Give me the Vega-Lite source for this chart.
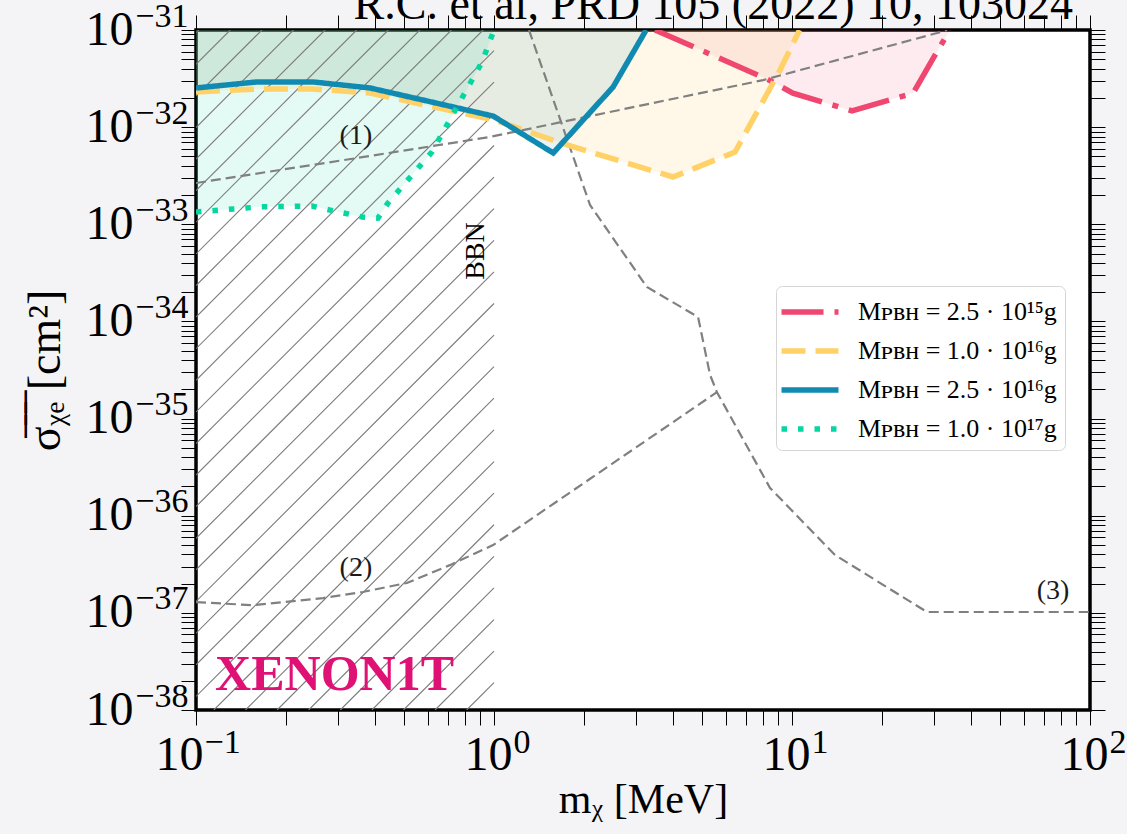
{
  "$schema": "https://vega.github.io/schema/vega-lite/v6.json",
  "width": 894,
  "height": 680,
  "autosize": {"type": "none"},
  "padding": {"left": 196, "top": 30, "right": 37, "bottom": 124},
  "background": "#f4f4f6",
  "config": {
    "view": {"fill": "white", "stroke": "black", "strokeWidth": 3.5},
    "axis": {
      "labelFont": "Liberation Serif",
      "titleFont": "Liberation Serif",
      "labelColor": "black",
      "titleColor": "black",
      "titleFontWeight": "normal",
      "domain": false,
      "grid": false,
      "tickColor": "black",
      "labelOverlap": false,
      "labelFlush": false,
      "zindex": 1
    }
  },
  "datasets": {
    "curves": [
      {"series": "Mᴘʙʜ = 2.5 · 10¹⁵g", "m": 3.47, "sigma": 1e-31},
      {"series": "Mᴘʙʜ = 2.5 · 10¹⁵g", "m": 8.24, "sigma": 3.13e-32},
      {"series": "Mᴘʙʜ = 2.5 · 10¹⁵g", "m": 10.07, "sigma": 2.24e-32},
      {"series": "Mᴘʙʜ = 2.5 · 10¹⁵g", "m": 15.9, "sigma": 1.47e-32},
      {"series": "Mᴘʙʜ = 2.5 · 10¹⁵g", "m": 25.5, "sigma": 2.24e-32},
      {"series": "Mᴘʙʜ = 2.5 · 10¹⁵g", "m": 30.9, "sigma": 6.22e-32},
      {"series": "Mᴘʙʜ = 2.5 · 10¹⁵g", "m": 33.9, "sigma": 1e-31},
      {"series": "Mᴘʙʜ = 1.0 · 10¹⁶g", "m": 0.1, "sigma": 2.30e-32},
      {"series": "Mᴘʙʜ = 1.0 · 10¹⁶g", "m": 0.16, "sigma": 2.47e-32},
      {"series": "Mᴘʙʜ = 1.0 · 10¹⁶g", "m": 0.247, "sigma": 2.47e-32},
      {"series": "Mᴘʙʜ = 1.0 · 10¹⁶g", "m": 0.384, "sigma": 2.24e-32},
      {"series": "Mᴘʙʜ = 1.0 · 10¹⁶g", "m": 0.751, "sigma": 1.43e-32},
      {"series": "Mᴘʙʜ = 1.0 · 10¹⁶g", "m": 1.0, "sigma": 1.19e-32},
      {"series": "Mᴘʙʜ = 1.0 · 10¹⁶g", "m": 1.76, "sigma": 6.55e-33},
      {"series": "Mᴘʙʜ = 1.0 · 10¹⁶g", "m": 3.99, "sigma": 3.07e-33},
      {"series": "Mᴘʙʜ = 1.0 · 10¹⁶g", "m": 6.44, "sigma": 5.55e-33},
      {"series": "Mᴘʙʜ = 1.0 · 10¹⁶g", "m": 9.12, "sigma": 3.87e-32},
      {"series": "Mᴘʙʜ = 1.0 · 10¹⁶g", "m": 10.6, "sigma": 1e-31},
      {"series": "Mᴘʙʜ = 2.5 · 10¹⁶g", "m": 0.1, "sigma": 2.53e-32},
      {"series": "Mᴘʙʜ = 2.5 · 10¹⁶g", "m": 0.16, "sigma": 2.92e-32},
      {"series": "Mᴘʙʜ = 2.5 · 10¹⁶g", "m": 0.247, "sigma": 2.92e-32},
      {"series": "Mᴘʙʜ = 2.5 · 10¹⁶g", "m": 0.384, "sigma": 2.53e-32},
      {"series": "Mᴘʙʜ = 2.5 · 10¹⁶g", "m": 0.994, "sigma": 1.30e-32},
      {"series": "Mᴘʙʜ = 2.5 · 10¹⁶g", "m": 1.58, "sigma": 5.42e-33},
      {"series": "Mᴘʙʜ = 2.5 · 10¹⁶g", "m": 2.51, "sigma": 2.59e-32},
      {"series": "Mᴘʙʜ = 2.5 · 10¹⁶g", "m": 3.24, "sigma": 1e-31},
      {"series": "Mᴘʙʜ = 1.0 · 10¹⁷g", "m": 0.1, "sigma": 1.34e-33},
      {"series": "Mᴘʙʜ = 1.0 · 10¹⁷g", "m": 0.164, "sigma": 1.51e-33},
      {"series": "Mᴘʙʜ = 1.0 · 10¹⁷g", "m": 0.245, "sigma": 1.54e-33},
      {"series": "Mᴘʙʜ = 1.0 · 10¹⁷g", "m": 0.282, "sigma": 1.40e-33},
      {"series": "Mᴘʙʜ = 1.0 · 10¹⁷g", "m": 0.361, "sigma": 1.19e-33},
      {"series": "Mᴘʙʜ = 1.0 · 10¹⁷g", "m": 0.408, "sigma": 1.16e-33},
      {"series": "Mᴘʙʜ = 1.0 · 10¹⁷g", "m": 0.441, "sigma": 1.66e-33},
      {"series": "Mᴘʙʜ = 1.0 · 10¹⁷g", "m": 0.619, "sigma": 5.55e-33},
      {"series": "Mᴘʙʜ = 1.0 · 10¹⁷g", "m": 0.751, "sigma": 1.61e-32},
      {"series": "Mᴘʙʜ = 1.0 · 10¹⁷g", "m": 0.912, "sigma": 4.69e-32},
      {"series": "Mᴘʙʜ = 1.0 · 10¹⁷g", "m": 1.0, "sigma": 1e-31}
    ],
    "guides": [
      {"curve": "(1)", "m": 0.1, "sigma": 2.66e-33},
      {"curve": "(1)", "m": 0.347, "sigma": 4.81e-33},
      {"curve": "(1)", "m": 0.97, "sigma": 7.93e-33},
      {"curve": "(1)", "m": 8.0, "sigma": 3.05e-32},
      {"curve": "(1)", "m": 30.7, "sigma": 9.31e-32},
      {"curve": "(1)", "m": 33.1, "sigma": 1e-31},
      {"curve": "(2)", "m": 0.1, "sigma": 1.29e-37},
      {"curve": "(2)", "m": 0.155, "sigma": 1.20e-37},
      {"curve": "(2)", "m": 0.267, "sigma": 1.42e-37},
      {"curve": "(2)", "m": 0.363, "sigma": 1.64e-37},
      {"curve": "(2)", "m": 0.51, "sigma": 2.03e-37},
      {"curve": "(2)", "m": 0.711, "sigma": 3.10e-37},
      {"curve": "(2)", "m": 0.993, "sigma": 4.99e-37},
      {"curve": "(2)", "m": 5.6, "sigma": 1.87e-35},
      {"curve": "(3)", "m": 1.31, "sigma": 1e-31},
      {"curve": "(3)", "m": 2.1, "sigma": 1.58e-33},
      {"curve": "(3)", "m": 3.26, "sigma": 2.26e-34},
      {"curve": "(3)", "m": 4.84, "sigma": 1.11e-34},
      {"curve": "(3)", "m": 5.31, "sigma": 2.81e-35},
      {"curve": "(3)", "m": 5.6, "sigma": 1.87e-35},
      {"curve": "(3)", "m": 8.44, "sigma": 1.93e-36},
      {"curve": "(3)", "m": 13.94, "sigma": 3.94e-37},
      {"curve": "(3)", "m": 28.38, "sigma": 1.02e-37},
      {"curve": "(3)", "m": 100, "sigma": 1.02e-37}
    ],
    "hatch": [
      {"m": 0.1, "sigma": 9.38e-32, "m2": 0.1021, "sigma2": 1e-31},
      {"m": 0.1, "sigma": 4.44e-32, "m2": 0.1303, "sigma2": 1e-31},
      {"m": 0.1, "sigma": 2.10e-32, "m2": 0.1664, "sigma2": 1e-31},
      {"m": 0.1, "sigma": 9.91e-33, "m2": 0.2124, "sigma2": 1e-31},
      {"m": 0.1, "sigma": 4.69e-33, "m2": 0.2711, "sigma2": 1e-31},
      {"m": 0.1, "sigma": 2.22e-33, "m2": 0.3461, "sigma2": 1e-31},
      {"m": 0.1, "sigma": 1.05e-33, "m2": 0.4418, "sigma2": 1e-31},
      {"m": 0.1, "sigma": 4.95e-34, "m2": 0.564, "sigma2": 1e-31},
      {"m": 0.1, "sigma": 2.34e-34, "m2": 0.7199, "sigma2": 1e-31},
      {"m": 0.1, "sigma": 1.11e-34, "m2": 0.9193, "sigma2": 1e-31},
      {"m": 0.1, "sigma": 5.24e-35, "m2": 1, "sigma2": 6.12e-32},
      {"m": 0.1, "sigma": 2.48e-35, "m2": 1, "sigma2": 2.90e-32},
      {"m": 0.1, "sigma": 1.17e-35, "m2": 1, "sigma2": 1.37e-32},
      {"m": 0.1, "sigma": 5.53e-36, "m2": 1, "sigma2": 6.47e-33},
      {"m": 0.1, "sigma": 2.62e-36, "m2": 1, "sigma2": 3.06e-33},
      {"m": 0.1, "sigma": 1.24e-36, "m2": 1, "sigma2": 1.45e-33},
      {"m": 0.1, "sigma": 5.85e-37, "m2": 1, "sigma2": 6.84e-34},
      {"m": 0.1, "sigma": 2.77e-37, "m2": 1, "sigma2": 3.24e-34},
      {"m": 0.1, "sigma": 1.31e-37, "m2": 1, "sigma2": 1.53e-34},
      {"m": 0.1, "sigma": 6.18e-38, "m2": 1, "sigma2": 7.23e-35},
      {"m": 0.1, "sigma": 2.92e-38, "m2": 1, "sigma2": 3.42e-35},
      {"m": 0.1, "sigma": 1.38e-38, "m2": 1, "sigma2": 1.62e-35},
      {"m": 0.1148, "sigma": 1e-38, "m2": 1, "sigma2": 7.64e-36},
      {"m": 0.1466, "sigma": 1e-38, "m2": 1, "sigma2": 3.61e-36},
      {"m": 0.1871, "sigma": 1e-38, "m2": 1, "sigma2": 1.71e-36},
      {"m": 0.2388, "sigma": 1e-38, "m2": 1, "sigma2": 8.07e-37},
      {"m": 0.3049, "sigma": 1e-38, "m2": 1, "sigma2": 3.82e-37},
      {"m": 0.3892, "sigma": 1e-38, "m2": 1, "sigma2": 1.81e-37},
      {"m": 0.4969, "sigma": 1e-38, "m2": 1, "sigma2": 8.53e-38},
      {"m": 0.6343, "sigma": 1e-38, "m2": 1, "sigma2": 4.04e-38},
      {"m": 0.8097, "sigma": 1e-38, "m2": 1, "sigma2": 1.91e-38}
    ],
    "notes": [
      {"kind": "curve", "label": "(1)", "m": 0.344, "sigma": 8.11e-33},
      {"kind": "curve", "label": "(2)", "m": 0.344, "sigma": 2.90e-37},
      {"kind": "curve", "label": "(3)", "m": 75.2, "sigma": 1.68e-37},
      {"kind": "bbn", "label": "BBN", "m": 0.871, "sigma": 5.31e-34},
      {"kind": "experiment", "label": "XENON1T", "m": 0.1159, "sigma": 1.607e-38},
      {"kind": "reference", "label": "R.C. et al, PRD 105 (2022) 10, 103024", "m": 87.7, "sigma": 1.297e-31}
    ]
  },
  "resolve": {"axis": {"x": "independent", "y": "independent"}},
  "layer": [
    {
      "data": {"name": "curves"},
      "transform": [{"filter": "datum.series === 'Mᴘʙʜ = 2.5 · 10¹⁵g'"}],
      "mark": {"type": "area", "clip": true, "color": "#EF476F", "opacity": 0.11},
      "encoding": {
        "x": {
          "field": "m", "type": "quantitative",
          "scale": {"type": "log", "domain": [0.1, 100], "nice": false},
          "axis": {
            "orient": "bottom",
            "title": "mᵪ [MeV]",
            "titleFontSize": 42,
            "titlePadding": 0,
            "labelFontSize": 48,
            "labelAlign": "right",
            "labelBaseline": "top",
            "tickSize": 15,
            "labelPadding": 6,
            "labelOffset": 18,
            "values": [0.1, 0.2, 0.3, 0.4, 0.5, 0.6, 0.7, 0.8, 0.9, 1, 2, 3, 4, 5, 6, 7, 8, 9, 10, 20, 30, 40, 50, 60, 70, 80, 90, 100],
            "labelExpr": "datum.value > 0.5 && abs(log(datum.value)/LN10 - round(log(datum.value)/LN10)) < 0.01 ? '10' : ''",
            "encode": {
              "ticks": {
                "y2": {"condition": {"test": "abs(log(datum.value)/LN10 - round(log(datum.value)/LN10)) < 0.01", "value": -15}, "value": -9.5},
                "strokeWidth": {"condition": {"test": "abs(log(datum.value)/LN10 - round(log(datum.value)/LN10)) < 0.01", "value": 2.6}, "value": 2}
              }
            }
          }
        },
        "y": {
          "field": "sigma", "type": "quantitative",
          "scale": {"type": "log", "domain": [1e-38, 1e-31], "nice": false},
          "axis": {
            "orient": "left",
            "title": "σ̅ᵪ̅ₑ̅ [cm²]",
            "titleFontSize": 46,
            "titlePadding": 16,
            "labelFontSize": 48,
            "labelBaseline": "middle",
            "tickSize": 15,
            "labelPadding": 48,
            "values": [1e-38, 2e-38, 3e-38, 4e-38, 5e-38, 6e-38, 7e-38, 8e-38, 9e-38, 1e-37, 2e-37, 3e-37, 4e-37, 5e-37, 6e-37, 7e-37, 8e-37, 9e-37, 1e-36, 2e-36, 3e-36, 4e-36, 5e-36, 6e-36, 7e-36, 8e-36, 9e-36, 1e-35, 2e-35, 3e-35, 4e-35, 5e-35, 6e-35, 7e-35, 8e-35, 9e-35, 1e-34, 2e-34, 3e-34, 4e-34, 5e-34, 6e-34, 7e-34, 8e-34, 9e-34, 1e-33, 2e-33, 3e-33, 4e-33, 5e-33, 6e-33, 7e-33, 8e-33, 9e-33, 1e-32, 2e-32, 3e-32, 4e-32, 5e-32, 6e-32, 7e-32, 8e-32, 9e-32, 1e-31],
            "labelExpr": "abs(log(datum.value)/LN10 - round(log(datum.value)/LN10)) < 0.01 ? '10' : ''",
            "encode": {
              "ticks": {
                "x2": {"condition": {"test": "abs(log(datum.value)/LN10 - round(log(datum.value)/LN10)) < 0.01", "value": 15}, "value": 9.5},
                "strokeWidth": {"condition": {"test": "abs(log(datum.value)/LN10 - round(log(datum.value)/LN10)) < 0.01", "value": 2.6}, "value": 2}
              }
            }
          }
        },
        "y2": {"datum": 1e-31}
      }
    },
    {
      "data": {"name": "curves"},
      "transform": [{"filter": "datum.series === 'Mᴘʙʜ = 1.0 · 10¹⁶g'"}],
      "mark": {"type": "area", "clip": true, "color": "#FFD166", "opacity": 0.15},
      "encoding": {
        "x": {
          "field": "m", "type": "quantitative",
          "scale": {"type": "log", "domain": [0.1, 100], "nice": false},
          "axis": {
            "orient": "bottom",
            "title": null,
            "ticks": false,
            "tickSize": 0,
            "labelFontSize": 34,
            "labelAlign": "left",
            "labelBaseline": "top",
            "labelPadding": 15,
            "labelOffset": 19,
            "values": [1, 10, 100],
            "labelExpr": "'' + round(log(datum.value)/LN10)"
          }
        },
        "y": {
          "field": "sigma", "type": "quantitative",
          "scale": {"type": "log", "domain": [1e-38, 1e-31], "nice": false},
          "axis": {
            "orient": "left",
            "title": null,
            "ticks": false,
            "tickSize": 0,
            "labelFontSize": 34,
            "labelBaseline": "middle",
            "labelPadding": 8,
            "labelOffset": -14,
            "values": [1e-38, 1e-37, 1e-36, 1e-35, 1e-34, 1e-33, 1e-32, 1e-31],
            "labelExpr": "'−' + round(-log(datum.value)/LN10)"
          }
        },
        "y2": {"datum": 1e-31}
      }
    },
    {
      "data": {"name": "curves"},
      "transform": [{"filter": "datum.series === 'Mᴘʙʜ = 2.5 · 10¹⁶g'"}],
      "mark": {"type": "area", "clip": true, "color": "#118AB2", "opacity": 0.1},
      "encoding": {
        "x": {
          "field": "m", "type": "quantitative",
          "scale": {"type": "log", "domain": [0.1, 100], "nice": false},
          "axis": {
            "orient": "bottom",
            "title": null,
            "ticks": false,
            "tickSize": 0,
            "labelFontSize": 48,
            "labelAlign": "right",
            "labelBaseline": "top",
            "labelPadding": 21,
            "labelOffset": 7,
            "values": [0.1],
            "labelExpr": "'10'"
          }
        },
        "y": {"field": "sigma", "type": "quantitative", "scale": {"type": "log", "domain": [1e-38, 1e-31], "nice": false}, "axis": null},
        "y2": {"datum": 1e-31}
      }
    },
    {
      "data": {"name": "curves"},
      "transform": [{"filter": "datum.series === 'Mᴘʙʜ = 1.0 · 10¹⁷g'"}],
      "mark": {"type": "area", "clip": true, "color": "#06D6A0", "opacity": 0.11},
      "encoding": {
        "x": {
          "field": "m", "type": "quantitative",
          "scale": {"type": "log", "domain": [0.1, 100], "nice": false},
          "axis": {
            "orient": "bottom",
            "title": null,
            "ticks": false,
            "tickSize": 0,
            "labelFontSize": 34,
            "labelAlign": "left",
            "labelBaseline": "top",
            "labelPadding": 15,
            "labelOffset": 8,
            "values": [0.1],
            "labelExpr": "'−1'"
          }
        },
        "y": {"field": "sigma", "type": "quantitative", "scale": {"type": "log", "domain": [1e-38, 1e-31], "nice": false}, "axis": null},
        "y2": {"datum": 1e-31}
      }
    },
    {
      "data": {"name": "hatch"},
      "mark": {"type": "rule", "clip": true, "color": "#7a7a7a", "strokeWidth": 1.1},
      "encoding": {
        "x": {
          "field": "m", "type": "quantitative",
          "scale": {"type": "log", "domain": [0.1, 100], "nice": false},
          "axis": {
            "orient": "top",
            "title": null,
            "labels": false,
            "tickSize": 15,
            "values": [0.1, 0.2, 0.3, 0.4, 0.5, 0.6, 0.7, 0.8, 0.9, 1, 2, 3, 4, 5, 6, 7, 8, 9, 10, 20, 30, 40, 50, 60, 70, 80, 90, 100],
            "encode": {
              "ticks": {
                "y2": {"condition": {"test": "abs(log(datum.value)/LN10 - round(log(datum.value)/LN10)) < 0.01", "value": 15}, "value": 9.5},
                "strokeWidth": {"condition": {"test": "abs(log(datum.value)/LN10 - round(log(datum.value)/LN10)) < 0.01", "value": 2.6}, "value": 2}
              }
            }
          }
        },
        "y": {
          "field": "sigma", "type": "quantitative",
          "scale": {"type": "log", "domain": [1e-38, 1e-31], "nice": false},
          "axis": {
            "orient": "right",
            "title": null,
            "labels": false,
            "tickSize": 15,
            "values": [1e-38, 2e-38, 3e-38, 4e-38, 5e-38, 6e-38, 7e-38, 8e-38, 9e-38, 1e-37, 2e-37, 3e-37, 4e-37, 5e-37, 6e-37, 7e-37, 8e-37, 9e-37, 1e-36, 2e-36, 3e-36, 4e-36, 5e-36, 6e-36, 7e-36, 8e-36, 9e-36, 1e-35, 2e-35, 3e-35, 4e-35, 5e-35, 6e-35, 7e-35, 8e-35, 9e-35, 1e-34, 2e-34, 3e-34, 4e-34, 5e-34, 6e-34, 7e-34, 8e-34, 9e-34, 1e-33, 2e-33, 3e-33, 4e-33, 5e-33, 6e-33, 7e-33, 8e-33, 9e-33, 1e-32, 2e-32, 3e-32, 4e-32, 5e-32, 6e-32, 7e-32, 8e-32, 9e-32, 1e-31],
            "encode": {
              "ticks": {
                "x2": {"condition": {"test": "abs(log(datum.value)/LN10 - round(log(datum.value)/LN10)) < 0.01", "value": -15}, "value": -9.5},
                "strokeWidth": {"condition": {"test": "abs(log(datum.value)/LN10 - round(log(datum.value)/LN10)) < 0.01", "value": 2.6}, "value": 2}
              }
            }
          }
        },
        "x2": {"field": "m2"},
        "y2": {"field": "sigma2"}
      }
    },
    {
      "data": {"name": "guides"},
      "mark": {"type": "line", "clip": true, "color": "#808080", "strokeWidth": 2.2, "strokeDash": [10, 5]},
      "encoding": {
        "x": {"field": "m", "type": "quantitative", "scale": {"type": "log", "domain": [0.1, 100], "nice": false}, "axis": null},
        "y": {"field": "sigma", "type": "quantitative", "scale": {"type": "log", "domain": [1e-38, 1e-31], "nice": false}, "axis": null},
        "detail": {"field": "curve", "type": "nominal"}
      }
    },
    {
      "data": {"name": "curves"},
      "mark": {"type": "line", "clip": true, "strokeWidth": 5.5},
      "encoding": {
        "x": {"field": "m", "type": "quantitative", "scale": {"type": "log", "domain": [0.1, 100], "nice": false}, "axis": null},
        "y": {"field": "sigma", "type": "quantitative", "scale": {"type": "log", "domain": [1e-38, 1e-31], "nice": false}, "axis": null},
        "color": {
          "field": "series", "type": "nominal",
          "scale": {
            "domain": ["Mᴘʙʜ = 2.5 · 10¹⁵g", "Mᴘʙʜ = 1.0 · 10¹⁶g", "Mᴘʙʜ = 2.5 · 10¹⁶g", "Mᴘʙʜ = 1.0 · 10¹⁷g"],
            "range": ["#EF476F", "#FFD166", "#118AB2", "#06D6A0"]
          },
          "legend": {
            "title": null, "orient": "none", "legendX": 580, "legendY": 256,
            "symbolType": "M-1.9,0L1.9,0", "symbolSize": 900, "symbolStrokeWidth": 5.5,
            "symbolOffset": 8, "labelOffset": 30,
            "labelFont": "Liberation Serif", "labelFontSize": 26, "labelColor": "black", "labelLimit": 400,
            "rowPadding": 8, "padding": 8,
            "fillColor": "white", "strokeColor": "#d5d5d5", "cornerRadius": 6
          }
        },
        "strokeDash": {
          "field": "series", "type": "nominal",
          "scale": {
            "domain": ["Mᴘʙʜ = 2.5 · 10¹⁵g", "Mᴘʙʜ = 1.0 · 10¹⁶g", "Mᴘʙʜ = 2.5 · 10¹⁶g", "Mᴘʙʜ = 1.0 · 10¹⁷g"],
            "range": [[42, 11, 6, 11], [24, 10], [1, 0], [5.5, 11]]
          },
          "legend": {
            "title": null, "orient": "none", "legendX": 580, "legendY": 256,
            "symbolType": "M-1.9,0L1.9,0", "symbolSize": 900, "symbolStrokeWidth": 5.5,
            "symbolOffset": 8, "labelOffset": 30,
            "labelFont": "Liberation Serif", "labelFontSize": 26, "labelColor": "black", "labelLimit": 400,
            "rowPadding": 8, "padding": 8,
            "fillColor": "white", "strokeColor": "#d5d5d5", "cornerRadius": 6
          }
        }
      }
    },
    {
      "mark": {"type": "rule", "color": "black", "strokeWidth": 2},
      "encoding": {
        "x": {"datum": 1, "type": "quantitative", "scale": {"type": "log", "domain": [0.1, 100], "nice": false}, "axis": null}
      }
    },
    {
      "data": {"name": "notes"},
      "transform": [{"filter": "datum.kind === 'curve'"}],
      "mark": {"type": "text", "font": "Liberation Serif", "fontSize": 28, "color": "#1a1a1a", "align": "center", "baseline": "middle"},
      "encoding": {
        "x": {"field": "m", "type": "quantitative", "scale": {"type": "log", "domain": [0.1, 100], "nice": false}, "axis": null},
        "y": {"field": "sigma", "type": "quantitative", "scale": {"type": "log", "domain": [1e-38, 1e-31], "nice": false}, "axis": null},
        "text": {"field": "label"}
      }
    },
    {
      "data": {"name": "notes"},
      "transform": [{"filter": "datum.kind === 'bbn'"}],
      "mark": {"type": "text", "font": "Liberation Serif", "fontSize": 28, "color": "black", "align": "center", "baseline": "middle", "angle": 270},
      "encoding": {
        "x": {"field": "m", "type": "quantitative", "scale": {"type": "log", "domain": [0.1, 100], "nice": false}, "axis": null},
        "y": {"field": "sigma", "type": "quantitative", "scale": {"type": "log", "domain": [1e-38, 1e-31], "nice": false}, "axis": null},
        "text": {"field": "label"}
      }
    },
    {
      "data": {"name": "notes"},
      "transform": [{"filter": "datum.kind === 'experiment'"}],
      "mark": {"type": "text", "font": "Liberation Serif", "fontSize": 50, "fontWeight": "bold", "color": "#df1175", "align": "left", "baseline": "alphabetic"},
      "encoding": {
        "x": {"field": "m", "type": "quantitative", "scale": {"type": "log", "domain": [0.1, 100], "nice": false}, "axis": null},
        "y": {"field": "sigma", "type": "quantitative", "scale": {"type": "log", "domain": [1e-38, 1e-31], "nice": false}, "axis": null},
        "text": {"field": "label"}
      }
    },
    {
      "data": {"name": "notes"},
      "transform": [{"filter": "datum.kind === 'reference'"}],
      "mark": {"type": "text", "font": "Liberation Serif", "fontSize": 46, "color": "black", "align": "right", "baseline": "alphabetic"},
      "encoding": {
        "x": {"field": "m", "type": "quantitative", "scale": {"type": "log", "domain": [0.1, 100], "nice": false}, "axis": null},
        "y": {"field": "sigma", "type": "quantitative", "scale": {"type": "log", "domain": [1e-38, 1e-31], "nice": false}, "axis": null},
        "text": {"field": "label"}
      }
    }
  ]
}
